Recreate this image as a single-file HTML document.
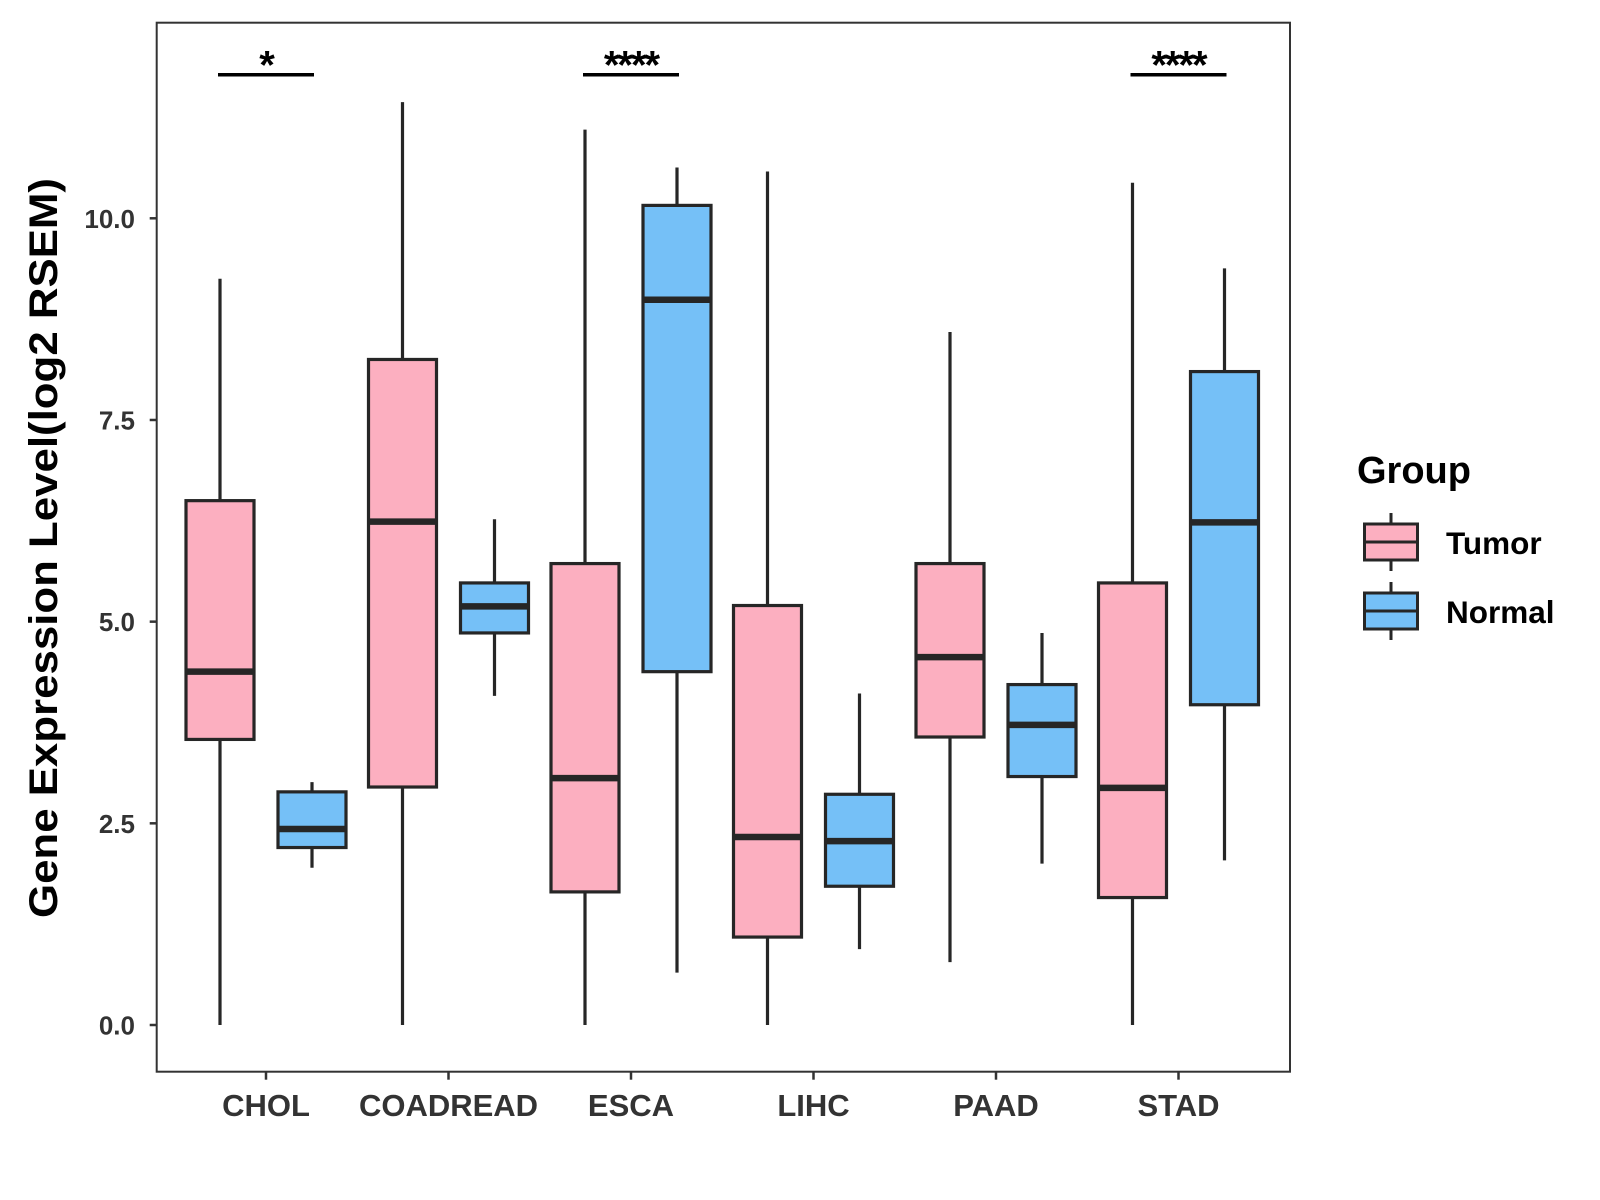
<!DOCTYPE html>
<html><head><meta charset="utf-8"><style>
body{margin:0;background:#fff;}
svg{display:block;font-family:"Liberation Sans",Arial,sans-serif;}
</style></head><body>
<svg id="chart" width="1600" height="1200" viewBox="0 0 1600 1200"></svg>
<script>
const categories=["CHOL","COADREAD","ESCA","LIHC","PAAD","STAD"];
// [lowWhisker, q1, median, q3, highWhisker]
const tumorStats=[[0,3.54,4.38,6.5,9.25],[0,2.95,6.24,8.25,11.44],[0,1.65,3.06,5.72,11.1],[0,1.09,2.33,5.2,10.58],[0.78,3.57,4.56,5.72,8.59],[0,1.58,2.94,5.48,10.44]];
const normalStats=[[1.95,2.2,2.43,2.89,3.01],[4.08,4.86,5.19,5.48,6.27],[0.65,4.38,8.99,10.16,10.63],[0.94,1.72,2.28,2.86,4.11],[2.0,3.08,3.72,4.22,4.86],[2.04,3.97,6.23,8.1,9.38]];
const yTicks=[0,2.5,5,7.5,10];
const yTickLabels=["0.0","2.5","5.0","7.5","10.0"];
const sigCategories=["CHOL","ESCA","STAD"];
const sigLabels=["*","****","****"];
const sigLevel=11.78;

const svg=document.getElementById('chart');
const NS='http://www.w3.org/2000/svg';
const L=156.7,T=22.7,R=1290,B=1071.7;
function y(v){return 1025-v*80.67;}
function xc(i){return 266+i*182.5;}
const dodge=46,bw=68;
function mk(tag,attrs,parent){const e=document.createElementNS(NS,tag);for(const k in attrs)e.setAttribute(k,attrs[k]);(parent||svg).appendChild(e);return e;}

const panel=mk('rect',{x:L,y:T,width:R-L,height:B-T,fill:'#fff',stroke:'#333',"stroke-width":2});



function drawBox(s,cx,fill,name){
  const g=mk('g',{});
  
  
  mk('line',{x1:cx,x2:cx,y1:y(s[0]),y2:y(s[4]),stroke:'#262626','stroke-width':3.2},g);
  mk('rect',{x:cx-bw/2,y:y(s[3]),width:bw,height:y(s[1])-y(s[3]),fill:fill,stroke:'#262626','stroke-width':3.2},g);
  mk('line',{x1:cx-bw/2,x2:cx+bw/2,y1:y(s[2]),y2:y(s[2]),stroke:'#262626','stroke-width':6.5},g);
}
categories.forEach((c,i)=>{
  drawBox(tumorStats[i],xc(i)-dodge,'#FCAFC0','box-tumor-'+c.toLowerCase());
  drawBox(normalStats[i],xc(i)+dodge,'#75C0F7','box-normal-'+c.toLowerCase());
  const t=mk('line',{x1:xc(i),x2:xc(i),y1:B,y2:B+8,stroke:'#333','stroke-width':2.5});
  
  
  const tx=mk('text',{x:xc(i),y:1116,'text-anchor':'middle','font-size':31,'font-weight':'bold',fill:'#333'});
  tx.textContent=c;
  
  
});
yTicks.forEach((v,i)=>{
  const t=mk('line',{x1:L-7,x2:L,y1:y(v),y2:y(v),stroke:'#333','stroke-width':2.5});
  
  
  const tx=mk('text',{x:135,y:y(v)+9.5,'text-anchor':'end','font-size':26,'font-weight':'bold',fill:'#333'});
  tx.textContent=yTickLabels[i];
  
  
});
sigCategories.forEach((c,k)=>{
  const i=categories.indexOf(c);
  const l=mk('line',{x1:xc(i)-dodge-2,x2:xc(i)+dodge+2,y1:y(sigLevel),y2:y(sigLevel),stroke:'#000','stroke-width':3.5});
  
  
  const tx=mk('text',{x:xc(i),y:y(sigLevel)+4,'text-anchor':'middle','font-size':40,'font-weight':'bold',fill:'#000','letter-spacing':'-2'});
  tx.textContent=sigLabels[k];
  
  
});
const yt=mk('text',{x:0,y:0,transform:'translate(57,548) rotate(-90)','text-anchor':'middle','font-size':40,'font-weight':'bold',fill:'#000',textLength:740,lengthAdjust:'spacingAndGlyphs'});
yt.textContent='Gene Expression Level(log2 RSEM)';



const lg=mk('g',{});


const lt=mk('text',{x:1357,y:483,'font-size':38,'font-weight':'bold',fill:'#000'},lg);
lt.textContent='Group';


[['Tumor','#FCAFC0',524],['Normal','#75C0F7',593]].forEach(([n,f,top])=>{
  const e=mk('g',{},lg);
  
  
  mk('line',{x1:1391,x2:1391,y1:top-11,y2:top+47,stroke:'#262626','stroke-width':3},e);
  mk('rect',{x:1364.5,y:top,width:53,height:36,fill:f,stroke:'#262626','stroke-width':3},e);
  mk('line',{x1:1364.5,x2:1417.5,y1:top+18,y2:top+18,stroke:'#262626','stroke-width':3},e);
  const t=mk('text',{x:1446,y:top+30,'font-size':31.5,'font-weight':'bold',fill:'#000'},e);
  t.textContent=n;
});
</script>
</body></html>
